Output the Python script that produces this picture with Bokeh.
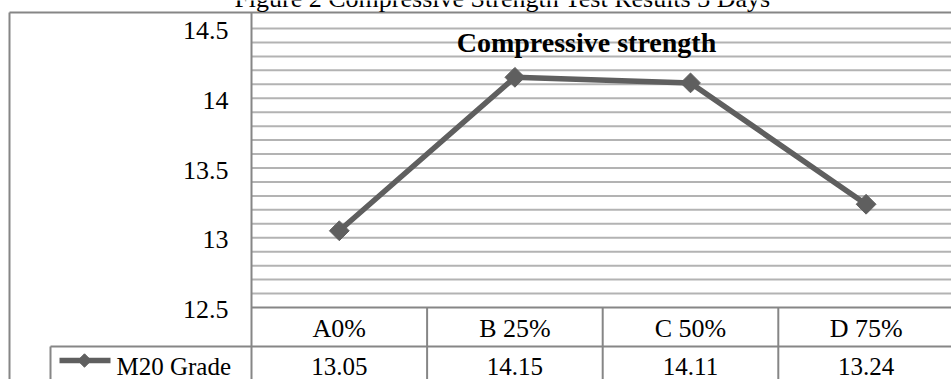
import numpy as np
from bokeh.plotting import figure
from bokeh.models import Range1d
from bokeh.core.properties import value
from bokeh.embed import file_html
from bokeh.resources import INLINE

# ---- data ----
categories = ["A0%", "B 25%", "C 50%", "D 75%"]
m20_grade = [13.05, 14.15, 14.11, 13.24]
series_name = "M20 Grade"
y_ticks = [12.5, 13.0, 13.5, 14.0, 14.5]
y_tick_labels = ["12.5", "13", "13.5", "14", "14.5"]
minor_step = 0.1
chart_title = "Compressive strength"
figure_caption = "Figure 2 Compressive Strength Test Results 3 Days"

# ---- layout (pixels) ----
W, H = 951, 379
PLOT_L, PLOT_T, PLOT_B = 251, 28, 307
CAT_W = 175.6
Y_MIN, Y_MAX = y_ticks[0], y_ticks[-1]
px_per_unit = (PLOT_B - PLOT_T) / (Y_MAX - Y_MIN)

FONT = value("Liberation Serif")
LINE_COLOR = "#5f5f5f"
BORDER = "#868686"
GRID = "#b3b3b3"

p = figure(width=W, height=H, x_range=Range1d(0, W), y_range=Range1d(H, 0),
           output_backend="svg", toolbar_location=None, min_border=0,
           x_axis_type=None, y_axis_type=None, outline_line_color=None,
           background_fill_color="white", border_fill_color="white")

cat_start = -PLOT_L / CAT_W
val_start = Y_MIN - (H - PLOT_B) / px_per_unit
p.extra_x_ranges = {"cat": Range1d(cat_start, cat_start + W / CAT_W)}
p.extra_y_ranges = {"val": Range1d(val_start, val_start + H / px_per_unit)}

n = len(categories)
cat_x = [i + 0.5 for i in range(n)]

# horizontal gridlines
grid_vals = np.round(np.arange(Y_MIN + minor_step, Y_MAX + 1e-9, minor_step), 2)
p.segment(x0=0, x1=n, y0=grid_vals, y1=grid_vals, x_range_name="cat", y_range_name="val",
          line_color=GRID, line_width=2)

# frame / table borders
p.segment(x0=[9, 9, PLOT_L, 50, 50], y0=[12, 12, 12, 346, 346],
          x1=[W, 9, PLOT_L, W, 50], y1=[12, H, H, 346, H],
          line_color=BORDER, line_width=2)
p.segment(x0=0, x1=n, y0=Y_MIN, y1=Y_MIN, x_range_name="cat", y_range_name="val",
          line_color=BORDER, line_width=2)
p.segment(x0=list(range(1, n)), x1=list(range(1, n)), y0=PLOT_B, y1=H,
          x_range_name="cat", line_color=BORDER, line_width=2)

# series
p.line(x=cat_x, y=m20_grade, x_range_name="cat", y_range_name="val",
       line_color=LINE_COLOR, line_width=5.5)
p.scatter(x=cat_x, y=m20_grade, x_range_name="cat", y_range_name="val",
          marker="square", angle=np.pi / 4, size=14, color=LINE_COLOR)

# legend key in table
p.segment(x0=[59], y0=[360], x1=[110], y1=[360], line_color=LINE_COLOR, line_width=5.5)
p.scatter(x=[84], y=[360], marker="square", angle=np.pi / 4, size=9.5, color=LINE_COLOR)

# texts
p.text(x=[502], y=[-2], text=[figure_caption], text_font=FONT, text_font_size="26px",
       text_align="center", text_baseline="middle", text_color="black")
p.text(x=[586], y=[42], text=[chart_title], text_font=FONT, text_font_size="28px",
       text_font_style="bold", text_align="center", text_baseline="middle", text_color="black")
p.text(x=[228] * len(y_ticks), y=y_ticks, text=y_tick_labels, y_range_name="val",
       text_font=FONT, text_font_size="26px", text_align="right", text_baseline="middle",
       y_offset=2, text_color="black")
p.text(x=cat_x, y=[328] * n, text=categories, x_range_name="cat",
       text_font=FONT, text_font_size="26px", text_align="center", text_baseline="middle",
       text_color="black")
p.text(x=cat_x, y=[366] * n, text=[f"{v:.2f}" for v in m20_grade], x_range_name="cat",
       text_font=FONT, text_font_size="25px", text_align="center", text_baseline="middle",
       text_color="black")
p.text(x=[116], y=[366], text=[series_name], text_font=FONT, text_font_size="25px",
       text_align="left", text_baseline="middle", text_color="black")

open("out.html", "w").write(file_html(p, INLINE))
